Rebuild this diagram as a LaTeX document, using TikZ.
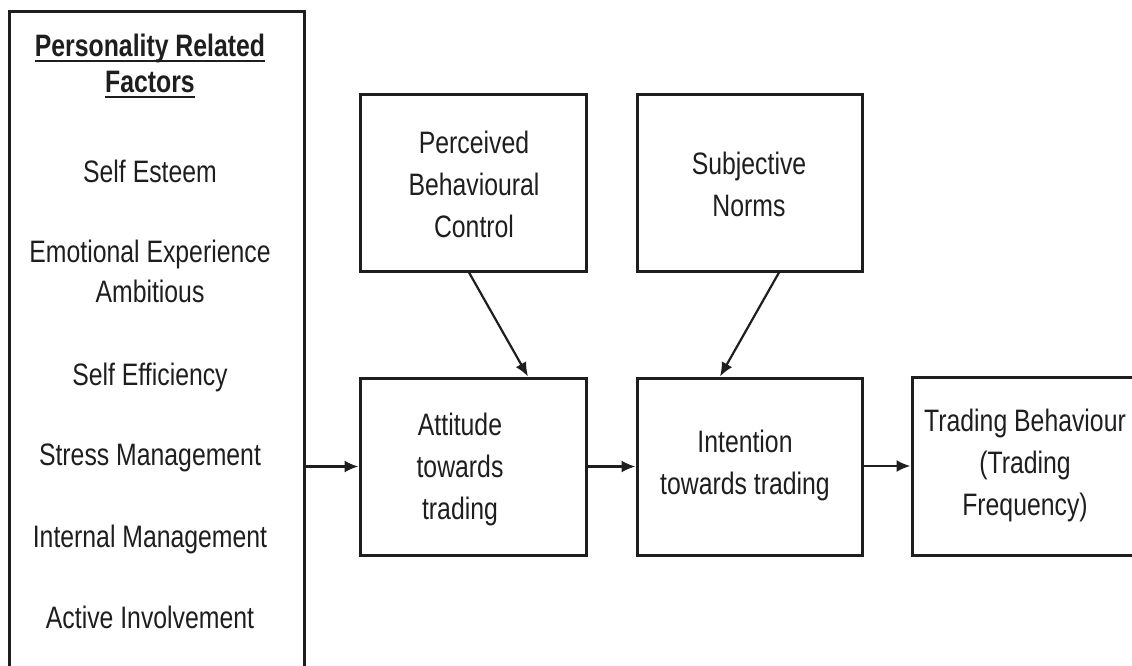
\documentclass[tikz,border=0pt]{standalone}
\usepackage{fontspec}
\setmainfont[FakeStretch=0.8]{Liberation Sans}
\usetikzlibrary{arrows.meta}
\definecolor{ink}{HTML}{1E1E1E}
\newcommand\hdul[1]{\setbox0\hbox{#1}\rlap{\color{ink}\rule[-5pt]{\wd0}{2pt}}\box0}
\begin{document}
\begin{tikzpicture}[x=1pt,y=-1pt,
  box/.style={draw=ink,line width=3pt,inner sep=0pt},
  txt/.style={text=ink,align=center,font=\fontsize{31}{42}\selectfont,anchor=base,inner sep=0pt},
  arr/.style={draw=ink,line width=2.2pt,-{Latex[length=14pt,width=12pt]}}]
\useasboundingbox (0,0) rectangle (1132,666);
\clip (0,0) rectangle (1132,666);
% boxes
\node[box,minimum width=295pt,minimum height=700pt] (lf) at (156.5,362) {};
\node[box,minimum width=226pt,minimum height=176pt] (pbc) at (473,183) {};
\node[box,minimum width=225pt,minimum height=176pt] (sn) at (749.5,183) {};
\node[box,minimum width=226pt,minimum height=177pt] (att) at (473,466.5) {};
\node[box,minimum width=225pt,minimum height=177pt] (int) at (749.5,466.5) {};
\node[box,minimum width=260pt,minimum height=178pt] (tb) at (1042,466) {};
% left texts
\node[txt,font=\bfseries\fontsize{31}{36}\selectfont] (hd) at (150,93) {\hdul{Personality Related}\\\hdul{Factors}};
\node[txt] (f1) at (150,182) {Self Esteem};
\node[txt,font=\fontsize{31}{40}\selectfont] (f2) at (150,302) {Emotional Experience\\Ambitious};
\node[txt] (f3) at (150,385) {Self Efficiency};
\node[txt] (f4) at (150,465) {Stress Management};
\node[txt] (f5) at (150,547) {Internal Management};
\node[txt] (f6) at (150,628) {Active Involvement};
% box texts
\node[txt] (t1) at (474,237) {Perceived\\Behavioural\\Control};
\node[txt] (t2) at (749,216) {Subjective\\Norms};
\node[txt] (t3) at (460,519) {Attitude\\towards\\trading};
\node[txt] (t4) at (745,494) {Intention\\towards trading};
\node[txt] (t5) at (1025,515) {Trading Behaviour\\(Trading\\Frequency)};
% arrows
\draw[arr] (att.west -| lf.east) -- (att.west);
\draw[arr] (int.west -| att.east) -- (int.west);
\draw[arr] (tb.west -| int.east) -- (tb.west);
\draw[arr] ([xshift=-4pt]pbc.south) -- ([xshift=55pt]att.north);
\draw[arr] ([xshift=29.5pt]sn.south) -- ([xshift=-29.5pt]int.north);
\end{tikzpicture}
\end{document}
